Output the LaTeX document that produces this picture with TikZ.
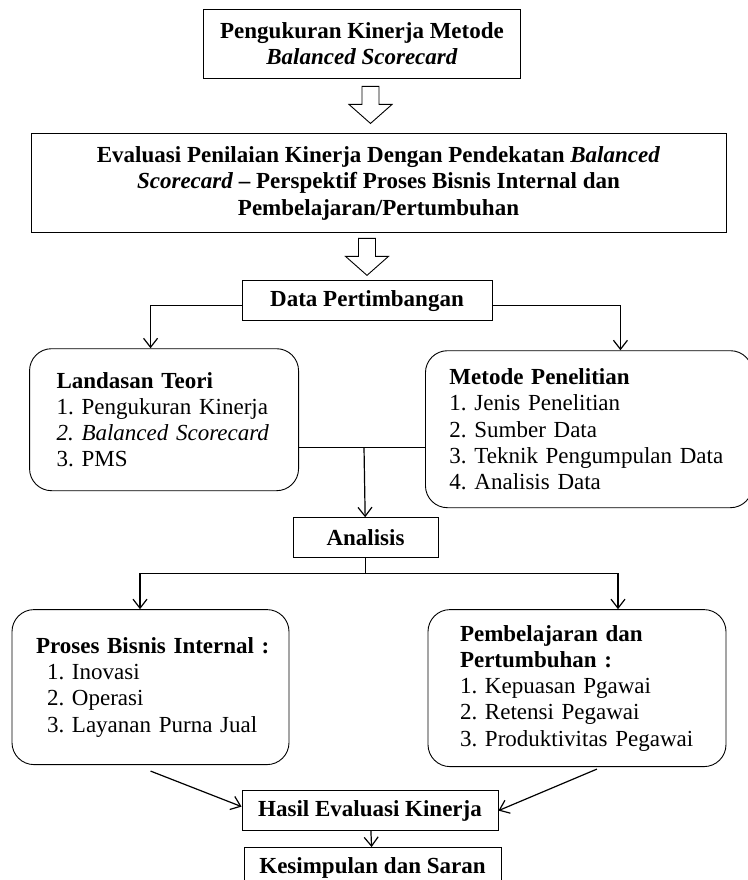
\documentclass[tikz,border=0pt]{standalone}
\usepackage{fontspec}
\setmainfont{Liberation Serif}
\usetikzlibrary{arrows.meta, positioning, calc}
\newcommand{\nomor}[1]{\makebox[25pt][l]{#1}}
\tikzset{
  kotak/.style={rectangle, draw=black, line width=0.9pt, inner sep=0pt, align=center,
    font=\fontsize{23}{26.3}\selectfont\bfseries},
  kotakbulat/.style={rectangle, rounded corners=22pt, draw=black, line width=0.9pt, inner sep=0pt,
    align=left, font=\fontsize{23}{26.3}\selectfont},
  panah/.style={-{Straight Barb[length=9pt, width=14pt]}, line width=1.2pt, black},
  garis/.style={line width=1.2pt, black},
  blok/.style={draw=black, line width=0.9pt, fill=white, line join=miter},
  blokpanah/.pic={\draw[blok] (-8.5,0) -- (-8.5,-18) -- (-21.5,-18) -- (0,-37) -- (21.5,-18) -- (8.5,-18) -- (8.5,0) -- cycle;},
}

\begin{document}
\begin{tikzpicture}[x=1pt, y=1pt]
  \useasboundingbox (0,0) rectangle (747,-880);
  % judul dan evaluasi
  \node[kotak, minimum width=317pt, minimum height=69pt] (judul) at (362,-43.5)
    {Pengukuran Kinerja Metode\\ \textit{Balanced Scorecard}};
  \node[kotak, minimum width=695pt, minimum height=99pt, below=55pt of judul, xshift=16.5pt] (evaluasi)
    {Evaluasi Penilaian Kinerja Dengan Pendekatan \textit{Balanced}\\
     \textit{Scorecard} – Perspektif Proses Bisnis Internal dan\\
     Pembelajaran/Pertumbuhan};
  \node[kotak, minimum width=250pt, minimum height=40pt, below=47pt of evaluasi, xshift=-11.5pt] (data) {Data Pertimbangan};
  \pic at ($(evaluasi.north)+(-8,47)$) {blokpanah};
  \pic at ($(data.north)+(0,42)$) {blokpanah};

  % landasan dan metode
  \node[kotakbulat, minimum width=269pt, minimum height=142pt, text width=215pt,
    below=27pt of data.south west, xshift=-77.5pt] (landasan)
    {\textbf{Landasan Teori}\\
     \nomor{1.}Pengukuran Kinerja\\
     \textit{\nomor{2.}Balanced Scorecard}\\
     \nomor{3.}PMS};
  \node[kotakbulat, minimum width=327pt, minimum height=157pt, text width=279pt,
    below=29pt of data.south east, xshift=96.5pt] (metode)
    {\textbf{Metode Penelitian}\\
     \nomor{1.}Jenis Penelitian\\
     \nomor{2.}Sumber Data\\
     \nomor{3.}Teknik Pengumpulan Data\\
     \nomor{4.}Analisis Data};
  \draw[panah] ([yshift=-5pt]data.west) -| ([xshift=-13.5pt]landasan.north);
  \draw[panah] ([yshift=-5pt]data.east) -| ([xshift=31.5pt]metode.north);

  % analisis
  \coordinate[below=126pt of data.south, xshift=-3pt] (temu);
  \node[kotak, minimum width=145pt, minimum height=40pt, below=70pt of temu, xshift=1.5pt] (analisis) {Analisis};
  \draw[garis] (landasan.east |- temu) -- (metode.west |- temu);
  \draw[panah] (temu) -- (analisis);

  % perspektif
  \node[kotakbulat, minimum width=277pt, minimum height=155pt, text width=229pt,
    below=51pt of analisis, xshift=-215pt] (proses)
    {\mbox{\textbf{Proses Bisnis Internal :}}\\
     \hspace*{11pt}\nomor{1.}Inovasi\\
     \hspace*{11pt}\nomor{2.}Operasi\\
     \hspace*{11pt}\nomor{3.}Layanan Purna Jual};
  \node[kotakbulat, minimum width=298pt, minimum height=157pt, text width=234pt,
    below=51pt of analisis, xshift=211.5pt] (pembelajaran)
    {\textbf{Pembelajaran dan}\\
     \textbf{Pertumbuhan :}\\
     \nomor{1.}Kepuasan Pgawai\\
     \nomor{2.}Retensi Pegawai\\
     \nomor{3.}Produktivitas Pegawai};
  \coordinate[below=15pt of analisis] (cabang);
  \draw[garis] (analisis) -- (cabang);
  \draw[panah] (cabang) -| ([xshift=-10.5pt]proses.north);
  \draw[panah] (cabang) -| ([xshift=41pt]pembelajaran.north);

  % hasil
  \node[kotak, minimum width=256pt, minimum height=40pt, below=232pt of analisis, xshift=4.5pt] (hasil) {Hasil Evaluasi Kinerja};
  \node[kotak, minimum width=257pt, minimum height=40pt, below=16pt of hasil, xshift=2.5pt] (kesimpulan) {Kesimpulan dan Saran};
  \draw[panah] ([yshift=-6pt]proses.south) -- ([yshift=4pt]hasil.west);
  \draw[panah] ([xshift=20pt,yshift=-2pt]pembelajaran.south) -- (hasil.east);
  \draw[panah] (hasil) -- (kesimpulan);
\end{tikzpicture}
\end{document}
